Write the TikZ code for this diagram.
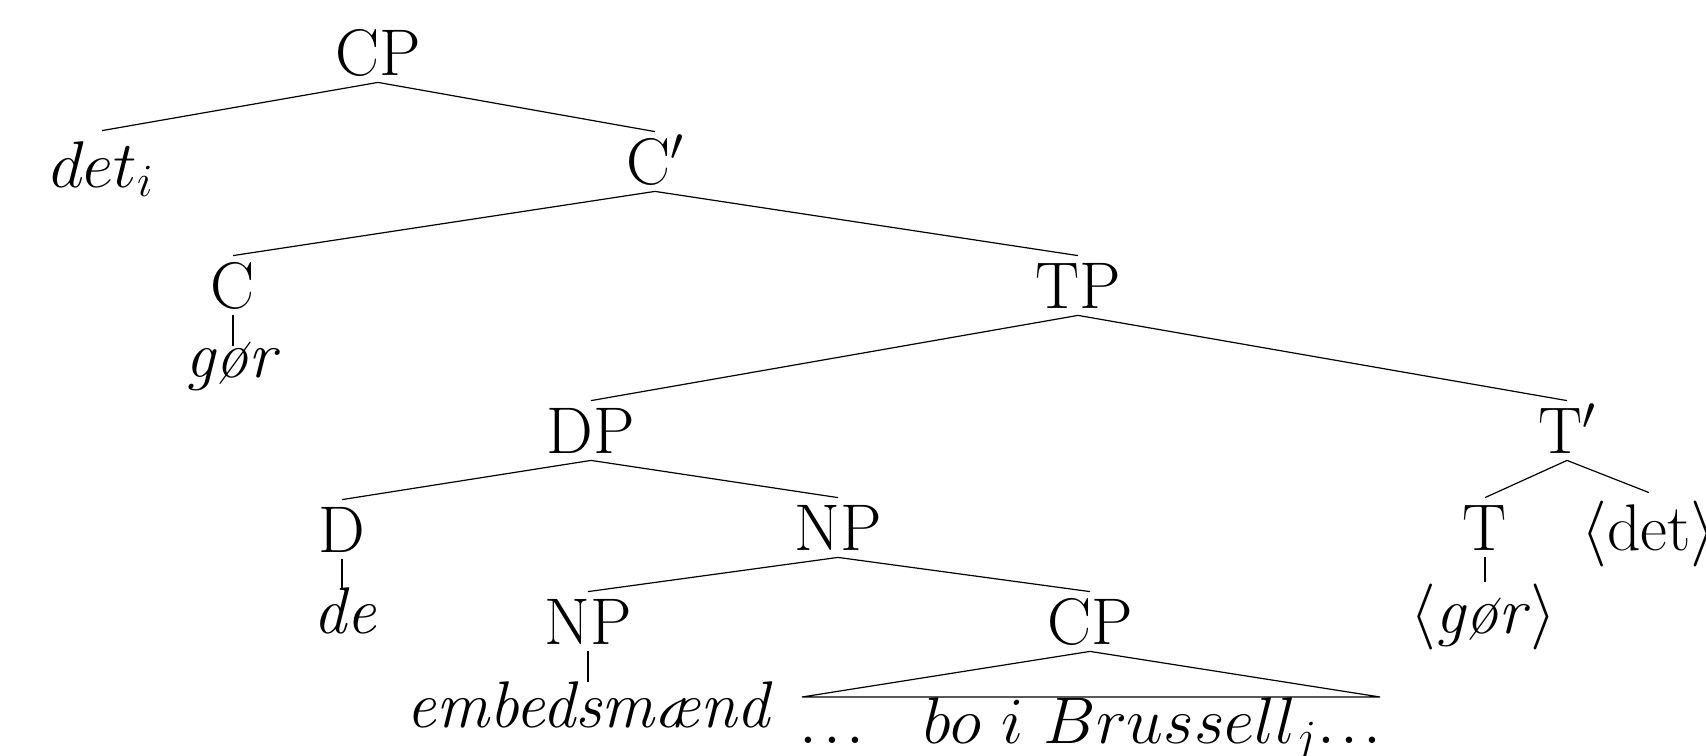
\RequirePackage{fix-cm}
\documentclass[tikz,border=0pt]{standalone}
\newcommand{\tdots}{.\mkern1.5mu.\mkern1.5mu.}
\begin{document}
\begin{tikzpicture}[x=0.5pt,y=-0.5pt,
  every node/.style={inner sep=0pt, font=\fontsize{33}{40}\selectfont},
  cat/.style={text height=26pt, text depth=3.5pt, anchor=base},
  leaf/.style={anchor=base, inner ysep=0pt},
  edge/.style={line width=0.6pt}]
\useasboundingbox (0,0) rectangle (1706,755);
% nodes
\node[cat] (cp0) at (378,75) {CP};
\node[leaf, text height=28pt] (deti) at (102,187) {$det_i$};
\node[cat] (cbar) at (655,184) {C$'$};
\node[cat] (c) at (233,308) {C};
\node[leaf, text height=15.5pt] (gor1) at (233,377) {\textit{gør}};
\node[cat] (tp) at (1078,308) {TP};
\node[cat] (dp) at (591,453) {DP};
\node[cat] (tbar) at (1567,453) {T$'$};
\node[cat] (d) at (342,552) {D};
\node[cat] (np) at (838,550) {NP};
\node[cat] (t) at (1485,550) {T};
\node[leaf, text height=28.5pt] (detb) at (1649,550) {$\langle$det$\rangle$};
\node[leaf, text height=22.5pt] (de) at (345,633) {\textit{de}};
\node[cat] (npl) at (588,644) {NP};
\node[cat] (cpl) at (1090,644) {CP};
\node[leaf, text height=25.5pt] (gor2) at (1483,633) {$\langle$\textit{gør}$\rangle$};
\node[leaf, text height=22.5pt] (emb) at (590,727) {\textit{embedsmænd}};
\node[leaf] (bo) at (1091,743) {$\tdots\mkern16mu bo\ i\ Brussell_j\tdots$};
\coordinate (tl) at (802,697);
\coordinate (tr) at (1380,697);
% edges
\draw[edge] (deti.north) -- (cp0.south) -- (cbar.north);
\draw[edge] (c.north) -- (cbar.south) -- (tp.north);
\draw[edge] (c.south) -- (c.south |- gor1.north);
\draw[edge] (dp.north) -- (tp.south) -- (tbar.north);
\draw[edge] (d.north) -- (dp.south) -- (np.north);
\draw[edge] (d.south) -- (d.south |- de.north);
\draw[edge] (npl.north) -- (np.south) -- (cpl.north);
\draw[edge] (npl.south) -- (npl.south |- emb.north);
\draw[edge] (tl) -- (cpl.south) -- (tr) -- cycle;
\draw[edge] (t.north) -- (tbar.south) -- (detb.north);
\draw[edge] (t.south) -- (t.south |- gor2.north);
\end{tikzpicture}
\end{document}
